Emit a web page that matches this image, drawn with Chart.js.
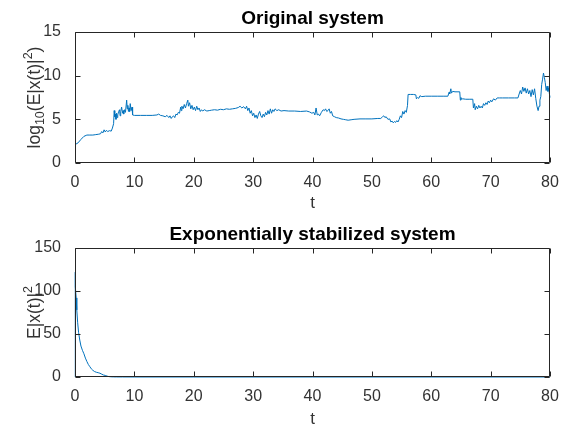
<!DOCTYPE html>
<html>
<head>
<meta charset="utf-8">
<script src="https://cdn.jsdelivr.net/npm/chart.js@4/dist/chart.umd.min.js"></script>
<style>
  html, body { margin: 0; padding: 0; background: #fff; }
  .box { position: absolute; left: 0; width: 568px; height: 216px; }
  #b1 { top: 0; }
  #b2 { top: 216px; }
</style>
</head>
<body>
<div class="box" id="b1"><canvas id="c1"></canvas></div>
<div class="box" id="b2"><canvas id="c2"></canvas></div>
<script>
// ---- data ----
const xTicks = [0, 10, 20, 30, 40, 50, 60, 70, 80];
const yTicksTop = [0, 5, 10, 15];
const yTicksBottom = [0, 50, 100, 150];

const tTop = [0,0.5,1,1.5,2,2.5,3,3.5,4,4.3,4.5,4.7,4.9,5.1,5.3,5.5,5.8,6.1,6.3,6.5,6.6,6.7,6.8,6.9,7.0,7.1,7.2,7.35,7.5,7.6,7.7,7.85,8.0,8.1,8.2,8.35,8.5,8.7,8.8,8.9,9.0,9.1,9.2,9.3,9.45,9.6,9.7,10,11,12,13,13.8,14.1,14.4,14.8,15.2,15.5,15.8,16.0,16.2,16.4,16.6,16.8,17.0,17.2,17.4,17.6,17.8,17.9,18.0,18.2,18.4,18.6,18.8,19.0,19.1,19.3,19.5,19.7,19.9,20.1,20.3,20.5,20.7,20.9,21.1,21.3,21.5,21.8,22.2,22.6,23,23.5,24,24.5,25,25.5,26,26.5,27,27.5,27.8,28.1,28.4,28.7,28.9,29.1,29.3,29.5,29.7,29.9,30.1,30.3,30.5,30.7,30.9,31.1,31.3,31.5,31.7,31.9,32.1,32.3,32.5,32.7,32.9,33.1,33.3,33.5,33.7,34.0,34.3,34.7,35.2,36,37,38,39,39.5,39.9,40.2,40.4,40.6,40.8,41.0,41.2,41.5,41.8,42.0,42.2,42.4,42.6,42.8,43.0,43.2,43.4,43.7,44.0,44.4,44.8,45.2,45.6,46.0,46.5,47,48,49,50,51,51.5,51.8,52.0,52.2,52.4,52.7,53.0,53.2,53.4,53.6,53.8,54.0,54.2,54.4,54.6,54.8,55.0,55.2,55.4,55.6,55.8,56.0,56.1,56.5,57,57.4,57.5,57.7,57.9,58.1,58.4,59,60,61,62,62.8,63.0,63.1,63.3,63.4,63.6,64,64.5,64.8,64.9,65.0,65.1,65.3,65.8,66.5,67.0,67.1,67.3,67.4,67.6,67.8,68.0,68.2,68.4,68.6,68.8,69.0,69.2,69.4,69.6,69.8,70.0,70.2,70.5,70.8,71.1,71.5,72,73,74,74.6,74.8,75.0,75.2,75.4,75.6,75.8,76.0,76.2,76.4,76.6,76.8,77.0,77.2,77.4,77.6,77.8,78.0,78.15,78.3,78.45,78.6,78.75,78.9,79.05,79.2,79.35,79.5,79.65,79.8,79.9,80.0];
const vTop = [2.1,2.3,2.7,3.05,3.2,3.2,3.2,3.25,3.3,3.35,3.6,3.45,3.8,3.55,3.75,3.6,3.7,3.65,4.0,4.5,6.0,5.3,5.6,5.0,5.7,5.2,5.5,5.9,6.1,5.4,5.9,6.4,5.7,6.0,5.6,6.1,5.8,7.2,6.2,6.6,5.9,6.3,5.9,6.8,6.0,6.4,5.5,5.45,5.45,5.45,5.45,5.5,5.6,5.45,5.4,5.3,5.45,5.2,5.4,5.1,5.3,5.4,5.2,5.6,5.5,5.8,5.7,6.4,6.0,6.5,6.2,6.7,6.3,6.8,7.2,6.5,6.9,6.2,6.6,6.1,6.4,6.0,6.5,6.1,6.3,5.9,6.1,5.95,6.1,5.95,6.0,6.05,6.1,6.05,6.15,6.1,6.2,6.15,6.2,6.25,6.35,6.5,6.3,6.45,6.2,6.5,6.0,6.3,5.7,6.0,5.4,5.7,5.2,5.5,5.1,5.6,5.9,5.4,5.2,5.6,5.3,5.8,5.5,6.0,5.6,6.2,5.7,6.1,5.9,6.2,6.0,6.1,5.95,6.0,5.95,5.95,5.9,5.95,5.85,5.7,5.8,5.5,6.3,5.5,5.6,5.4,5.8,6.1,6.0,6.2,5.9,6.0,6.2,5.7,5.9,5.4,5.3,5.2,5.15,5.05,5.0,4.95,4.9,4.95,5.0,5.05,5.05,5.05,5.1,5.1,5.3,5.4,5.2,5.3,5.0,5.05,4.7,4.8,4.6,4.75,4.65,4.85,4.7,5.0,5.4,5.2,5.9,5.6,6.0,5.8,6.6,7.85,7.85,7.85,7.8,7.35,7.5,7.4,7.7,7.6,7.65,7.65,7.65,7.65,7.65,8.1,7.9,8.5,8.0,8.2,8.15,8.15,8.15,7.2,7.5,7.3,7.35,7.3,7.3,7.3,6.3,6.8,6.1,6.5,6.2,6.6,6.3,6.5,6.3,6.8,6.6,6.9,6.7,7.1,6.9,7.2,7.0,7.35,7.2,7.45,7.45,7.45,7.45,7.45,7.45,7.9,8.3,7.9,8.7,8.2,8.6,8.0,8.5,7.9,8.3,7.6,8.4,7.8,8.5,7.4,6.5,6.0,6.5,7.2,7.6,9.0,9.6,10.3,9.8,9.2,8.3,8.8,8.2,8.6,7.9,7.5];

const tBottom = [0,0,0.1,0.2,0.3,0.45,0.6,0.8,1.0,1.25,1.5,1.75,2.0,2.25,2.5,2.75,3.0,3.3,3.6,3.9,4.2,4.5,4.8,5.1,5.4,5.7,6.0,6.5,7,8,10,20,40,60,80];
const vBottom = [0,122,105,92,78,63,52,43,36,31,27,22,18,14.5,12,9.5,7.8,6.3,5.5,5.0,4.4,3.3,2.3,1.8,1.0,0.5,0.25,0.1,0.05,0.02,0,0,0,0,0];

const titleTop = 'Original system';
const titleBottom = 'Exponentially stabilized system';
const xLabel = 't';
// y labels as rich-text parts: [text, kind] kind: n normal, sub, sup
const yLabelTop = [['log','n'],['10','sub'],['(E|x(t)|','n'],['2','sup'],[')','n']];
const yLabelBottom = [['E|x(t)|','n'],['2','sup']];

// ---- drawing helpers ----
const FONT = '"Liberation Sans", Arial, Helvetica, sans-serif';
const LINE = '#0072BD';
const AX = '#262626';
const TXT = '#333333';

const matlabAxes = {
  id: 'matlabAxes',
  afterDraw(chart, args, opts) {
    const { ctx, chartArea: a, scales } = chart;
    ctx.save();
    ctx.strokeStyle = AX;
    ctx.lineWidth = 1;
    const L = Math.round(a.left) + 0.5, R = Math.round(a.right) - 0.5;
    const T = Math.round(a.top) + 0.5, B = Math.round(a.bottom) - 0.5;
    ctx.beginPath();
    ctx.rect(L, T, R - L, B - T);
    const tl = 5;
    scales.x.ticks.forEach(t => {
      const px = Math.round(scales.x.getPixelForValue(t.value)) + 0.5;
      ctx.moveTo(px, B); ctx.lineTo(px, B - tl);
      ctx.moveTo(px, T); ctx.lineTo(px, T + tl);
    });
    scales.y.ticks.forEach(t => {
      const py = Math.round(scales.y.getPixelForValue(t.value)) + 0.5;
      ctx.moveTo(L, py); ctx.lineTo(L + tl, py);
      ctx.moveTo(R, py); ctx.lineTo(R - tl, py);
    });
    ctx.stroke();

    // title
    ctx.fillStyle = '#000';
    ctx.font = 'bold 19px ' + FONT;
    ctx.textAlign = 'center';
    ctx.textBaseline = 'alphabetic';
    ctx.fillText(opts.title, (a.left + a.right) / 2, a.top - 8);

    // y label (rotated, rich text)
    const base = 17.5, small = 12.5;
    const parts = opts.ylabel.map(([txt, kind]) => {
      const size = kind === 'n' ? base : small;
      ctx.font = size + 'px ' + FONT;
      return { txt, kind, size, w: ctx.measureText(txt).width };
    });
    const total = parts.reduce((s, p) => s + p.w, 0);
    ctx.translate(opts.ylabelX, (a.top + a.bottom) / 2);
    ctx.rotate(-Math.PI / 2);
    ctx.textAlign = 'left';
    ctx.fillStyle = TXT;
    let x = -total / 2;
    parts.forEach(p => {
      ctx.font = p.size + 'px ' + FONT;
      const dy = p.kind === 'sub' ? 4 : (p.kind === 'sup' ? -8 : 0);
      ctx.fillText(p.txt, x, 6 + dy);
      x += p.w;
    });
    ctx.restore();
  }
};

function makeChart(id, ts, vs, yTicks, title, ylabel, xH) {
  const points = ts.map((t, i) => ({ x: t, y: vs[i] }));
  return new Chart(document.getElementById(id), {
    type: 'line',
    data: { datasets: [{ data: points, borderColor: LINE, borderWidth: 1, pointRadius: 0, tension: 0, fill: false, clip: false }] },
    plugins: [matlabAxes],
    options: {
      responsive: true,
      maintainAspectRatio: false,
      animation: false,
      layout: { padding: { top: 32, right: 18, left: 0, bottom: 0 } },
      plugins: {
        legend: { display: false },
        tooltip: { enabled: false },
        matlabAxes: { title, ylabel, ylabelX: 34 }
      },
      scales: {
        x: {
          type: 'linear', min: xTicks[0], max: xTicks[xTicks.length - 1],
          afterBuildTicks: s => { s.ticks = xTicks.map(v => ({ value: v })); },
          grid: { display: false }, border: { display: false },
          ticks: { color: TXT, font: { family: FONT, size: 16 }, padding: 2, maxRotation: 0 },
          title: { display: true, text: xLabel, color: TXT, font: { family: FONT, size: 17 }, padding: { top: 0, bottom: 2 } },
          afterFit: s => { s.height = xH; }
        },
        y: {
          type: 'linear', min: yTicks[0], max: yTicks[yTicks.length - 1],
          afterBuildTicks: s => { s.ticks = yTicks.map(v => ({ value: v })); },
          grid: { display: false }, border: { display: false },
          ticks: { color: TXT, font: { family: FONT, size: 16 }, padding: 6 },
          afterFit: s => { s.width = 75; }
        }
      }
    }
  });
}

makeChart('c1', tTop, vTop, yTicksTop, titleTop, yLabelTop, 53);
makeChart('c2', tBottom, vBottom, yTicksBottom, titleBottom, yLabelBottom, 55);
</script>
</body>
</html>
